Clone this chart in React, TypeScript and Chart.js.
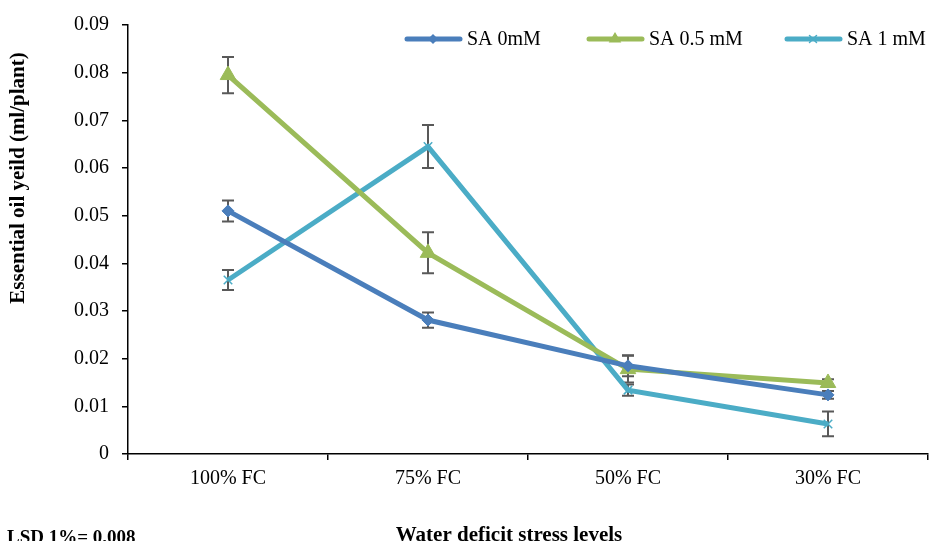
import React, { useEffect, useRef } from "react";
import { Chart, registerables } from "chart.js";

Chart.register(...registerables);

const categories = ["100% FC", "75% FC", "50% FC", "30% FC"];
const seriesNames = ["SA 0mM", "SA 0.5 mM", "SA 1 mM"];
const sa0 = [0.051, 0.0281, 0.0185, 0.0124];
const sa05 = [0.0795, 0.0422, 0.0178, 0.0149];
const sa1 = [0.0365, 0.0645, 0.0134, 0.0063];
const err0 = [0.0022, 0.0016, 0.0022, 0.0008];
const err05 = [0.0038, 0.0043, 0.0028, 0.0008];
const err1 = [0.0021, 0.0045, 0.0012, 0.0026];
const yTicks = [0, 0.01, 0.02, 0.03, 0.04, 0.05, 0.06, 0.07, 0.08, 0.09];
const yTitle = "Essential oil yeild (ml/plant)";
const xTitle = "Water deficit stress levels";
const note = "LSD 1%= 0.008";

const colors = ["#4a7ebb", "#9bbb59", "#4bacc6"];
const pointStyles = ["rectRot", "triangle", "crossRot"];
const pointRadii = [6, 9, 6];
const values = [sa0, sa05, sa1];
const errors = [err0, err05, err1];

const FONT = "'Liberation Serif', 'Times New Roman', serif";

const errorBarPlugin = {
  id: "errorBars",
  beforeDatasetsDraw(chart: any) {
    const ctx = chart.ctx;
    const ys = chart.scales.y;
    ctx.save();
    ctx.strokeStyle = "#595959";
    ctx.lineWidth = 2;
    chart.data.datasets.forEach((ds: any, i: number) => {
      const meta = chart.getDatasetMeta(i);
      meta.data.forEach((pt: any, j: number) => {
        const v = ds.data[j];
        const e = errors[i][j];
        const x = pt.x;
        const yTop = ys.getPixelForValue(v + e);
        const yBot = ys.getPixelForValue(v - e);
        ctx.beginPath();
        ctx.moveTo(x, yTop);
        ctx.lineTo(x, yBot);
        ctx.moveTo(x - 6, yTop);
        ctx.lineTo(x + 6, yTop);
        ctx.moveTo(x - 6, yBot);
        ctx.lineTo(x + 6, yBot);
        ctx.stroke();
      });
    });
    ctx.restore();
  },
};

function drawMarker(ctx: CanvasRenderingContext2D, style: string, x: number, y: number, r: number, color: string) {
  ctx.save();
  ctx.fillStyle = color;
  ctx.strokeStyle = color;
  ctx.beginPath();
  if (style === "rectRot") {
    ctx.moveTo(x, y - r);
    ctx.lineTo(x + r, y);
    ctx.lineTo(x, y + r);
    ctx.lineTo(x - r, y);
    ctx.closePath();
    ctx.fill();
  } else if (style === "triangle") {
    ctx.moveTo(x, y - r);
    ctx.lineTo(x + r * 0.9, y + r * 0.5);
    ctx.lineTo(x - r * 0.9, y + r * 0.5);
    ctx.closePath();
    ctx.fill();
  } else {
    ctx.lineWidth = 1.5;
    ctx.moveTo(x - r * 0.7, y - r * 0.7);
    ctx.lineTo(x + r * 0.7, y + r * 0.7);
    ctx.moveTo(x + r * 0.7, y - r * 0.7);
    ctx.lineTo(x - r * 0.7, y + r * 0.7);
    ctx.stroke();
  }
  ctx.restore();
}

const annotationPlugin = {
  id: "annotations",
  afterDraw(chart: any) {
    const ctx = chart.ctx;
    ctx.save();
    // legend
    const legendXs = [405, 587, 785];
    const ly = 39;
    ctx.font = `20px ${FONT}`;
    ctx.textBaseline = "middle";
    ctx.textAlign = "left";
    seriesNames.forEach((name, i) => {
      const x0 = legendXs[i];
      ctx.strokeStyle = colors[i];
      ctx.lineWidth = 5;
      ctx.lineCap = "round";
      ctx.beginPath();
      ctx.moveTo(x0 + 2, ly);
      ctx.lineTo(x0 + 55, ly);
      ctx.stroke();
      drawMarker(ctx, pointStyles[i], x0 + 28, ly, i === 1 ? 7 : 5, colors[i]);
      ctx.fillStyle = "#000";
      ctx.fillText(name, x0 + 62, ly + 1);
    });
    // y title
    ctx.font = `bold 21px ${FONT}`;
    ctx.save();
    ctx.translate(19, 178);
    ctx.rotate(-Math.PI / 2);
    ctx.textAlign = "center";
    ctx.textBaseline = "middle";
    ctx.fillText(yTitle, 0, 0);
    ctx.restore();
    // x title
    ctx.textAlign = "center";
    ctx.textBaseline = "alphabetic";
    ctx.fillText(xTitle, 509, 541);
    // note
    ctx.textAlign = "left";
    ctx.font = `bold 19px ${FONT}`;
    ctx.fillText(note, 7, 543);
    ctx.restore();
  },
};

export default function App() {
  const ref = useRef<HTMLCanvasElement>(null);
  useEffect(() => {
    if (!ref.current) return;
    const chart = new Chart(ref.current, {
      type: "line",
      data: {
        labels: categories,
        datasets: values.map((vals, i) => ({
          label: seriesNames[i],
          data: vals,
          borderColor: colors[i],
          backgroundColor: colors[i],
          borderWidth: 5,
          pointStyle: pointStyles[i] as any,
          pointRadius: pointRadii[i],
          pointBorderWidth: i === 2 ? 1.5 : 1,
          pointBackgroundColor: colors[i],
          pointBorderColor: colors[i],
          tension: 0,
          fill: false,
        })),
      },
      options: {
        animation: false,
        responsive: false,
        maintainAspectRatio: false,
        layout: { autoPadding: false, padding: { top: 25, right: 1, left: 0, bottom: 0 } },
        plugins: {
          legend: { display: false },
          tooltip: { enabled: false },
        },
        scales: {
          x: {
            type: "category",
            offset: true,
            border: { color: "#000", width: 1.5 },
            grid: {
              display: true,
              offset: true,
              drawOnChartArea: false,
              drawTicks: true,
              tickLength: 6,
              color: "#000",
              lineWidth: 1.5,
            },
            ticks: {
              color: "#000",
              font: { family: FONT, size: 20 },
              padding: 7,
              maxRotation: 0,
            },
            afterFit(scale: any) {
              scale.height = 87;
              scale.paddingLeft = 0;
              scale.paddingRight = 0;
            },
          },
          y: {
            min: 0,
            max: 0.09,
            border: { color: "#000", width: 1.5 },
            grid: {
              display: true,
              drawOnChartArea: false,
              drawTicks: true,
              tickLength: 6,
              color: "#000",
              lineWidth: 1.5,
            },
            afterBuildTicks(scale: any) {
              scale.ticks = yTicks.map((v) => ({ value: v }));
            },
            ticks: {
              color: "#000",
              font: { family: FONT, size: 20 },
              padding: 13,
              callback: (v: any) => (v === 0 ? "0" : Number(v).toFixed(2)),
            },
            afterFit(scale: any) {
              scale.width = 128;
              scale.paddingTop = 0;
              scale.paddingBottom = 0;
            },
          },
        },
      },
      plugins: [errorBarPlugin, annotationPlugin],
    } as any);
    return () => chart.destroy();
  }, []);
  return (
    <div style={{ position: "absolute", left: 0, top: 0, width: 929, height: 541, background: "#fff" }}>
      <canvas ref={ref} width={929} height={541} style={{ width: 929, height: 541, display: "block" }} />
    </div>
  );
}
